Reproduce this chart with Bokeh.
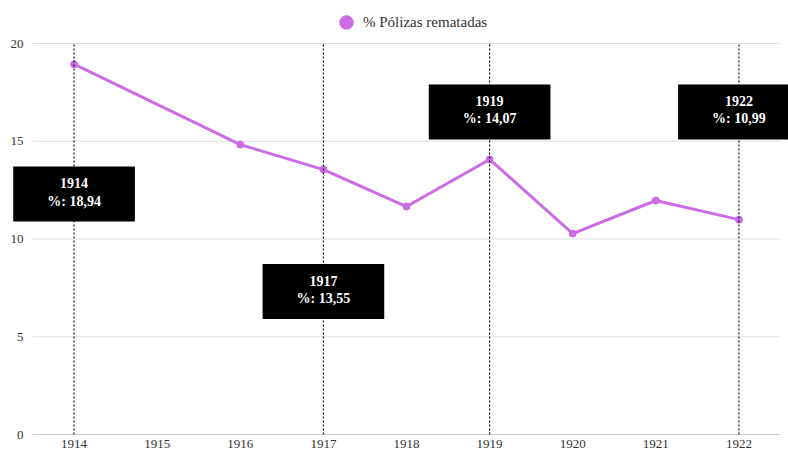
from bokeh.plotting import figure
from bokeh.models import (Range1d, FixedTicker, Label, Legend, LegendItem,
                          ColumnDataSource)
from bokeh.embed import file_html
from bokeh.resources import INLINE

# ---- data ----
years = [1914, 1915, 1916, 1917, 1918, 1919, 1920, 1921, 1922]
pct = [18.94, None, 14.83, 13.55, 11.66, 14.07, 10.28, 11.97, 10.99]
highlight_years = [1914, 1917, 1919, 1922]
highlight_label_y = [12.3, 7.31, 16.5, 16.5]   # callout placement
series_name = "% Pólizas rematadas"
y_ticks = [0, 5, 10, 15, 20]

COLOR = "#cb6ce6"
FONT = "Liberation Serif"

# ---- layout geometry (pixels) ----
W, H = 788, 451
PLOT_LEFT = 32                 # where the value area starts
LEFT, BOTTOM = 10, 17          # panel sizes (frame starts at LEFT so callouts are not cut)
TOP_GAP = 43                   # space above the 20-line inside the frame
frame_w = W - LEFT
frame_h = H - BOTTOM
step = (W - PLOT_LEFT - 8) / len(years)
x_lo = years[0] - 0.5          # start of the value area
x_hi = years[-1] + 0.5         # end of the value area
x_start = x_lo - (PLOT_LEFT - LEFT) / step
x_end = x_start + frame_w / step
y_end = y_ticks[-1] * frame_h / (frame_h - TOP_GAP)

xs = [y for y, v in zip(years, pct) if v is not None]
ys = [v for v in pct if v is not None]
src = ColumnDataSource(dict(x=xs, y=ys))

p = figure(width=W, height=H, output_backend="svg", toolbar_location=None,
           x_range=Range1d(x_start, x_end), y_range=Range1d(0, y_end),
           min_border_left=LEFT, min_border_right=0, min_border_top=0,
           min_border_bottom=BOTTOM)
p.outline_line_color = None
p.background_fill_color = "white"

# horizontal grid lines over the value area
n = len(y_ticks)
p.segment(x0=[x_lo] * n, y0=y_ticks, x1=[x_hi] * n, y1=y_ticks,
          line_color="#e0e0e0", line_width=1)
# baseline (x axis line)
p.segment(x0=[x_lo], y0=[y_ticks[0]], x1=[x_hi], y1=[y_ticks[0]],
          line_color="#aaaaaa", line_width=1)

p.line('x', 'y', source=src, line_color=COLOR, line_width=3)
r_pts = p.scatter('x', 'y', source=src, size=7, fill_color=COLOR, line_color=COLOR)

# dotted reference lines (0 .. top tick)
p.segment(x0=highlight_years, y0=[y_ticks[0]] * len(highlight_years),
          x1=highlight_years, y1=[y_ticks[-1]] * len(highlight_years),
          line_color="#111111", line_width=1.2, line_dash="2 2")

# axes
p.xaxis.ticker = FixedTicker(ticks=years)
p.xaxis.major_tick_line_color = None
p.xaxis.minor_tick_line_color = None
p.xaxis.major_tick_out = 0
p.xaxis.minor_tick_out = 0
p.xaxis.axis_line_color = None
p.xaxis.major_label_text_font = FONT
p.xaxis.major_label_text_font_size = "13px"
p.xaxis.major_label_text_color = "#333333"
p.xaxis.major_label_standoff = 5

p.yaxis.ticker = FixedTicker(ticks=y_ticks)
p.yaxis.axis_line_color = None
p.yaxis.major_tick_line_color = None
p.yaxis.minor_tick_line_color = None
p.yaxis.major_tick_out = 0
p.yaxis.minor_tick_out = 0
p.yaxis.major_label_text_font = FONT
p.yaxis.major_label_text_font_size = "13px"
p.yaxis.major_label_text_color = "#333333"
p.yaxis.major_label_standoff = LEFT - 23

p.xgrid.grid_line_color = None
p.ygrid.grid_line_color = None

# callouts: black box + two centred lines
for yr, ly in zip(highlight_years, highlight_label_y):
    v = pct[years.index(yr)]
    line2 = f"%: {v:.2f}".replace(".", ",")
    common = dict(x=yr, y=ly, text_align="center", text_baseline="middle",
                  text_font=FONT, text_font_size="14px", text_font_style="bold")
    p.add_layout(Label(text=line2, text_color="black",
                       background_fill_color="black",
                       padding=dict(left=34, right=34, top=20, bottom=20),
                       **common))
    p.add_layout(Label(text=str(yr), text_color="white", y_offset=11, **common))
    p.add_layout(Label(text=line2, text_color="white", y_offset=-7, **common))

legend = Legend(items=[LegendItem(label=series_name, renderers=[r_pts])],
                orientation="horizontal", location=(0, 0),
                glyph_width=34, glyph_height=34, label_standoff=0,
                padding=0, margin=0, border_line_color=None,
                background_fill_alpha=0,
                label_text_font=FONT, label_text_font_size="15px",
                label_text_color="#333333")
# place legend top-left corner: x from frame left, y (legend bottom) from frame bottom
legend.location = (339 - 10 - LEFT, frame_h - 39)
p.add_layout(legend)

open("out.html", "w").write(file_html(p, INLINE))
